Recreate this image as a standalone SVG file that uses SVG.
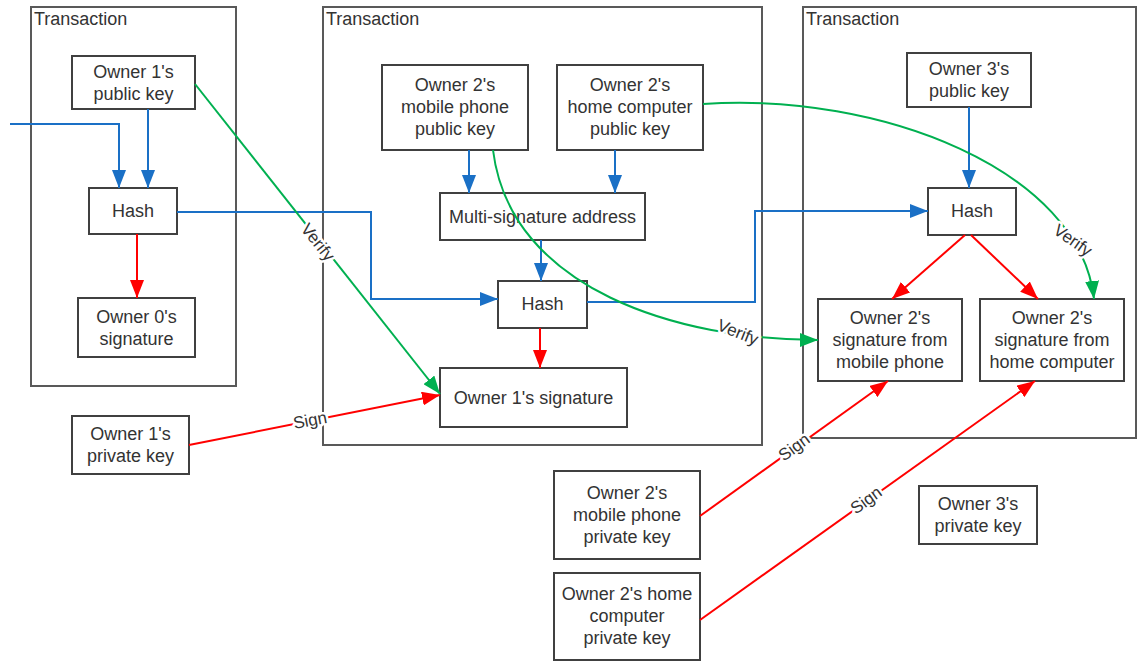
<svg xmlns="http://www.w3.org/2000/svg" width="1138" height="661" viewBox="0 0 1138 661">
<style>
.tx{fill:none;stroke:#595959;stroke-width:2}
.nd{fill:#fff;stroke:#404040;stroke-width:2}
text{font-family:"Liberation Sans",Arial,sans-serif;font-size:18px;fill:#333}
.t{text-anchor:middle}
.lbl{text-anchor:middle;font-size:17px;stroke:#fff;stroke-width:5;paint-order:stroke;stroke-linejoin:round}
.b{fill:none;stroke:#1a70c6;stroke-width:2}
.r{fill:none;stroke:#ff0000;stroke-width:2}
.g{fill:none;stroke:#00b050;stroke-width:2}
</style>
<defs>
<marker id="ab" markerUnits="userSpaceOnUse" markerWidth="18" markerHeight="14" refX="18" refY="7" orient="auto"><path d="M0,0 L18,7 L0,14 z" fill="#1a70c6"/></marker>
<marker id="ar" markerUnits="userSpaceOnUse" markerWidth="18" markerHeight="14" refX="18" refY="7" orient="auto"><path d="M0,0 L18,7 L0,14 z" fill="#ff0000"/></marker>
<marker id="ag" markerUnits="userSpaceOnUse" markerWidth="18" markerHeight="14" refX="18" refY="7" orient="auto"><path d="M0,0 L18,7 L0,14 z" fill="#00b050"/></marker>
</defs>
<rect width="1138" height="661" fill="#fff"/>
<g id="tx1"><rect class="tx" x="31" y="7" width="205" height="379"/><text x="34" y="25">Transaction</text></g>
<g id="tx2"><rect class="tx" x="323" y="7" width="439" height="438"/><text x="326" y="25">Transaction</text></g>
<g id="tx3"><rect class="tx" x="803" y="7" width="333" height="431"/><text x="806" y="25">Transaction</text></g>

<g id="pk1"><rect class="nd" x="72" y="56" width="123" height="53"/><text class="t" x="133.5" y="78">Owner 1's</text><text class="t" x="133.5" y="100">public key</text></g>
<g id="hash1"><rect class="nd" x="89" y="188" width="88" height="46"/><text class="t" x="133" y="217">Hash</text></g>
<g id="sig0"><rect class="nd" x="78" y="298" width="117" height="59"/><text class="t" x="136.5" y="323">Owner 0's</text><text class="t" x="136.5" y="345">signature</text></g>
<g id="priv1"><rect class="nd" x="72" y="416" width="117" height="58"/><text class="t" x="130.5" y="440">Owner 1's</text><text class="t" x="130.5" y="462">private key</text></g>
<g id="mpk"><rect class="nd" x="382" y="65" width="146" height="85"/><text class="t" x="455" y="91">Owner 2's</text><text class="t" x="455" y="113">mobile phone</text><text class="t" x="455" y="135">public key</text></g>
<g id="hpk"><rect class="nd" x="557" y="65" width="146" height="85"/><text class="t" x="630" y="91">Owner 2's</text><text class="t" x="630" y="113">home computer</text><text class="t" x="630" y="135">public key</text></g>
<g id="msig"><rect class="nd" x="440" y="193" width="205" height="47"/><text class="t" x="542.5" y="223">Multi-signature address</text></g>
<g id="hash2"><rect class="nd" x="498" y="281" width="89" height="47"/><text class="t" x="542.5" y="310">Hash</text></g>
<g id="sig1"><rect class="nd" x="440" y="368" width="187" height="59"/><text class="t" x="533.5" y="404">Owner 1's signature</text></g>
<g id="pk3"><rect class="nd" x="907" y="53" width="124" height="54"/><text class="t" x="969" y="75">Owner 3's</text><text class="t" x="969" y="97">public key</text></g>
<g id="hash3"><rect class="nd" x="928" y="188" width="88" height="47"/><text class="t" x="972" y="217">Hash</text></g>
<g id="sigm"><rect class="nd" x="818" y="299" width="144" height="82"/><text class="t" x="890" y="324">Owner 2's</text><text class="t" x="890" y="346">signature from</text><text class="t" x="890" y="368">mobile phone</text></g>
<g id="sigh"><rect class="nd" x="980" y="299" width="144" height="82"/><text class="t" x="1052" y="324">Owner 2's</text><text class="t" x="1052" y="346">signature from</text><text class="t" x="1052" y="368">home computer</text></g>
<g id="mpriv"><rect class="nd" x="554" y="471" width="146" height="88"/><text class="t" x="627" y="499">Owner 2's</text><text class="t" x="627" y="521">mobile phone</text><text class="t" x="627" y="543">private key</text></g>
<g id="hpriv"><rect class="nd" x="554" y="573" width="146" height="87"/><text class="t" x="627" y="600">Owner 2's home</text><text class="t" x="627" y="622">computer</text><text class="t" x="627" y="644">private key</text></g>
<g id="priv3"><rect class="nd" x="919" y="486" width="118" height="58"/><text class="t" x="978" y="510">Owner 3's</text><text class="t" x="978" y="532">private key</text></g>

<g id="connectors">
<path class="b" d="M10,124 H119 V188" marker-end="url(#ab)"/>
<path class="b" d="M148,109 V188" marker-end="url(#ab)"/>
<path class="b" d="M177,212 H371 V299 H498" marker-end="url(#ab)"/>
<path class="b" d="M469,150 V193" marker-end="url(#ab)"/>
<path class="b" d="M615,150 V193" marker-end="url(#ab)"/>
<path class="b" d="M541,240 V281" marker-end="url(#ab)"/>
<path class="b" d="M587,302 H755 V211 H928" marker-end="url(#ab)"/>
<path class="b" d="M969,107 V188" marker-end="url(#ab)"/>
<path class="r" d="M137,234 V298" marker-end="url(#ar)"/>
<path class="r" d="M540,328 V368" marker-end="url(#ar)"/>
<path class="r" d="M965,235 L892,299" marker-end="url(#ar)"/>
<path class="r" d="M971,235 L1038,299" marker-end="url(#ar)"/>
<path class="r" d="M189,445 L440,395" marker-end="url(#ar)"/>
<path class="r" d="M700,516 L888,381" marker-end="url(#ar)"/>
<path class="r" d="M700,620 L1035,381" marker-end="url(#ar)"/>
<path class="g" d="M195,84 L440,394" marker-end="url(#ag)"/>
<path class="g" d="M493,150 C510,290 680,340 818,340" marker-end="url(#ag)"/>
<path class="g" d="M703,104 C880,92 1080,170 1094,299" marker-end="url(#ag)"/>
<text class="lbl" x="318" y="242" dy="0.35em" transform="rotate(51 318 242)">Verify</text>
<text class="lbl" x="738" y="332" dy="0.35em" transform="rotate(22 738 332)">Verify</text>
<text class="lbl" x="1073" y="240" dy="0.35em" transform="rotate(35 1073 240)">Verify</text>
<text class="lbl" x="310" y="420" dy="0.35em" transform="rotate(-11 310 420)">Sign</text>
<text class="lbl" x="794" y="447" dy="0.35em" transform="rotate(-36 794 447)">Sign</text>
<text class="lbl" x="866" y="500" dy="0.35em" transform="rotate(-36 866 500)">Sign</text>
</g>
</svg>
